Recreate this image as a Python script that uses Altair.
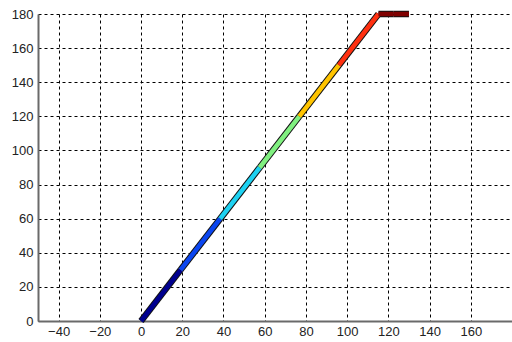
import altair as alt
import pandas as pd

# breakpoints of the path (x, y) and segment colours (jet colormap)
px = [0, 19.2, 38.4, 57.6, 76.8, 96.0, 115.2, 122.6, 130.0]
py = [0, 30, 60, 90, 120, 150, 180, 180, 180]
seg_colors = ["#00008F", "#0B46F0", "#1ED2F2", "#80F080", "#FFC400", "#FF3010", "#800000", "#800000"]

x_ticks = list(range(-40, 161, 20))
y_ticks = list(range(0, 181, 20))

rows = []
for i in range(len(px) - 1):
    rows.append({"seg": i, "x": px[i], "y": py[i], "x2": px[i + 1], "y2": py[i + 1], "c": seg_colors[i]})
df = pd.DataFrame(rows)

xs = alt.Scale(domain=[-50, 180], nice=False, zero=False)
ys = alt.Scale(domain=[0, 180], nice=False, zero=False)

common = dict(grid=True, gridColor="black", gridDash=[3, 3], gridWidth=1,
              gridOpacity=1, ticks=False, domain=True, domainColor="#6a6a6a", domainWidth=2,
              labelFont="Liberation Sans", labelFontSize=13, labelColor="#222222",
              title=None, labelFlush=False, labelOverlap=False, labelBound=False)
xaxis = alt.Axis(values=x_ticks, tickCount=len(x_ticks), labelPadding=4, **common)
yaxis = alt.Axis(values=y_ticks, tickCount=len(y_ticks), labelPadding=5, **common)

base = alt.Chart(df).encode(
    x=alt.X("x:Q", scale=xs, axis=xaxis),
    y=alt.Y("y:Q", scale=ys, axis=yaxis),
    x2="x2:Q",
    y2="y2:Q",
)

outline = base.mark_rule(color="#111111", strokeWidth=6.5, strokeCap="butt", clip=False)
colored = base.mark_rule(strokeWidth=4.5, strokeCap="butt", clip=False).encode(
    color=alt.Color("c:N", scale=None, legend=None),
)

chart = alt.layer(outline, colored).properties(
    width=474, height=307,
    autosize=alt.AutoSizeParams(type="none"),
    padding={"left": 38, "top": 14, "right": 0, "bottom": 21},
    background="white",
).configure_view(stroke=None)

chart.save("out.html", embed_options={"renderer": "svg", "actions": False})
